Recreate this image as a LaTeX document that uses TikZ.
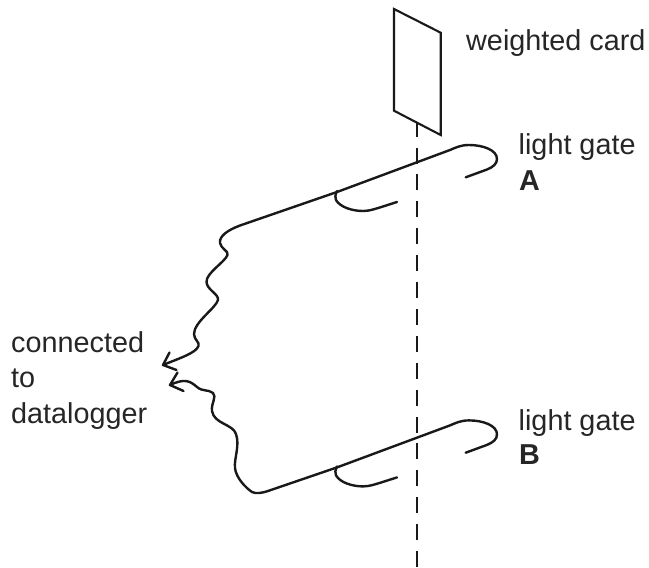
\documentclass[tikz,border=0pt]{standalone}
\usepackage{fontspec}
\setmainfont{Liberation Sans}
\tikzset{
  wire/.style={line width=2.4pt,line cap=round,line join=round,draw=black!90},
  thin wire/.style={line width=1.15pt,draw=black!90},
  lab/.style={anchor=base west,inner sep=0pt,font=\fontsize{28.8}{34}\selectfont,text=black!85}
}
\begin{document}
\begin{tikzpicture}[x=1pt,y=-1pt]
\useasboundingbox (0,0) rectangle (649,568);
\draw[thin wire,dash pattern=on 16pt off 10.9pt] (417,567) -- (417,118);
\draw[wire,line width=2.1pt,line join=miter,fill=white] (394,9) -- (440.7,32.7) -- (440.7,135) -- (394,110.7) -- cycle;
\foreach \d/\n in {0/a,275.4/b}{
  \begin{scope}[yshift=-\d pt]
  \draw[wire] (465.7,177.3) -- (487,169.5) .. controls (493,167) and (497,164) .. (497,159)
     .. controls (497,150) and (483,145) .. (469,145) .. controls (460,145) and (455,148) .. (450,150) -- (337,192);
  \draw[wire] (337,191) .. controls (335,195) and (335,198) .. (336,200)
     .. controls (340,207) and (352,211) .. (363,211) .. controls (370,211) and (375,209) .. (397,202);
  \end{scope}
}
\draw[wire] (337,192) -- (240,225.5) .. controls (228,230) and (219,236) .. (220,243)
  .. controls (221,249) and (229,251) .. (227.5,255) .. controls (225,262) and (206,273) .. (206.5,282)
  .. controls (207,290) and (219,294) .. (218,300) .. controls (216,308) and (194,322) .. (194,334)
  .. controls (194,340) and (200,342) .. (198.5,346) .. controls (196,353) and (180,358) .. (163,365);
\draw[wire] (169.5,352.5) -- (163,365) -- (176.5,370);
\draw[wire] (337,467.4) -- (268,491) .. controls (262,493) and (256,494) .. (252,492)
  .. controls (246,488) and (236,478) .. (235,468) .. controls (234,458) and (240,446) .. (236,434)
  .. controls (233,424) and (214,424) .. (212,411) .. controls (211,403) and (217,397) .. (213,393)
  .. controls (208,389) and (203,392) .. (197,387) .. controls (190,381) and (185,378) .. (170,385);
\draw[wire] (177.5,372.5) -- (170,385) -- (183.5,391);
\node[lab] (card) at (466,50) {weighted card};
\node[lab] (gateA1) at (518.5,154) {light gate};
\node[lab] (gateA2) at (519,190) {\textbf{A}};
\node[lab] (gateB1) at (518.5,430) {light gate};
\node[lab] (gateB2) at (519,464.5) {\textbf{B}};
\node[lab] (c1) at (11,352) {connected};
\node[lab] (c2) at (11,387) {to};
\node[lab] (c3) at (11,423) {datalogger};
\end{tikzpicture}
\end{document}
